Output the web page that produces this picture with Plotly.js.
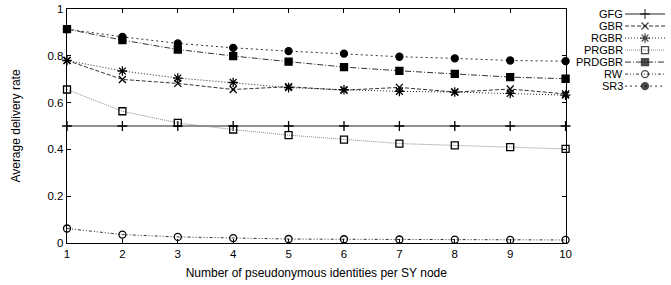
<!DOCTYPE html>
<html><head><meta charset="utf-8">
<script src="https://cdn.plot.ly/plotly-3.0.1.min.js"></script>
<style>html,body{margin:0;padding:0;background:#fff}#c{width:671px;height:285px}</style>
</head><body><div id="c"></div>
<script>
const xs = [1,2,3,4,5,6,7,8,9,10];
const names = ["GFG","GBR","RGBR","PRGBR","PRDGBR","RW","SR3"];
const GFG    = [0.5,0.5,0.5,0.5,0.5,0.5,0.5,0.5,0.5,0.5];
const GBR    = [0.78,0.699,0.682,0.656,0.668,0.653,0.665,0.645,0.658,0.637];
const RGBR   = [0.78,0.735,0.705,0.686,0.664,0.655,0.648,0.645,0.639,0.632];
const PRGBR  = [0.656,0.563,0.513,0.485,0.461,0.442,0.425,0.417,0.41,0.402];
const PRDGBR = [0.914,0.867,0.827,0.799,0.775,0.752,0.736,0.723,0.709,0.702];
const RW     = [0.062,0.036,0.026,0.021,0.017,0.016,0.015,0.014,0.013,0.013];
const SR3    = [0.914,0.881,0.853,0.834,0.82,0.809,0.796,0.789,0.78,0.777];
const yTicks = [0,0.2,0.4,0.6,0.8,1];
const yTickText = ["0","0.2","0.4","0.6","0.8","1"];
const xTicks = [1,2,3,4,5,6,7,8,9,10];

const series = [GFG,GBR,RGBR,PRGBR,PRDGBR,RW,SR3];
const styles = [
  {sym:"cross-thin-open", dash:"solid", col:"#222", sz:7},
  {sym:"x-thin-open", dash:"4px,2px", col:"#333", sz:7},
  {sym:"asterisk-open", dash:"1px,2px", col:"#222", sz:8},
  {sym:"square-open", dash:"1px,1px", col:"#888", sz:7},
  {sym:"square", dash:"6px,2px,1px,2px", col:"#333", sz:7},
  {sym:"circle-open", dash:"3px,2px,1px,2px,1px,2px", col:"#333", sz:7},
  {sym:"circle", dash:"2px,3px", col:"#333", sz:7}
];

const W=671,H=285, L=66.5, R=5, T=9, B=42.3;
const pw = W-L-R, ph = H-T-B;
const plotRight = 565.5;
const legX0 = 625, legX1 = 665;
const rowY0 = 14, rowDy = 12;

const traces = [];
series.forEach((ys,i)=>{
  const s = styles[i];
  traces.push({x:xs, y:ys, type:"scatter", mode:"lines+markers", name:names[i],
    line:{color:s.col, width:1, dash:s.dash},
    marker:{symbol:s.sym, size:s.sz, color:"#000", line:{color:"#000", width:1.3}},
    xaxis:"x", yaxis:"y", showlegend:false, cliponaxis:false});
});
const annotations = [];
names.forEach((n,i)=>{
  const s = styles[i];
  traces.push({x:[0,0.5,1], y:[-i,-i,-i], type:"scatter", mode:"lines+markers",
    line:{color:s.col, width:1, dash:s.dash},
    marker:{symbol:s.sym, size:[0,s.sz,0], color:"#000", line:{color:"#000", width:1.3}},
    xaxis:"x2", yaxis:"y2", showlegend:false, hoverinfo:"skip", cliponaxis:false});
  annotations.push({xref:"x2", yref:"y2", x:0, y:-i, text:n, showarrow:false,
    xanchor:"right", yanchor:"middle", xshift:-1, borderpad:0,
    font:{family:"Liberation Sans, Arial, sans-serif", size:11, color:"#000"}});
});

const font = {family:"Liberation Sans, Arial, sans-serif", size:11.5, color:"#000"};
const tfont = {family:"Liberation Sans, Arial, sans-serif", size:12, color:"#000"};
const legTopPx = T, legBotPx = 93;
const yTopVal = -(legTopPx-rowY0)/rowDy, yBotVal = -(legBotPx-rowY0)/rowDy;

const layout = {
  width:W, height:H, margin:{l:L, r:R, t:T, b:B},
  paper_bgcolor:"#fff", plot_bgcolor:"#fff", font:font, showlegend:false,
  xaxis:{domain:[0,(plotRight-L)/pw], range:[1,10], tickvals:xTicks, ticks:"inside", ticklen:4,
    tickwidth:1, tickcolor:"#000", showline:true, linecolor:"#000", linewidth:1.3, mirror:"ticks",
    showgrid:false, zeroline:false, tickfont:font,
    title:{text:"Number of pseudonymous identities per SY node", font:tfont, standoff:9}},
  yaxis:{range:[0,1], tickvals:yTicks, ticktext:yTickText, ticks:"inside", ticklen:4, tickwidth:1,
    tickcolor:"#000", showline:true, linecolor:"#000", linewidth:1.3, mirror:"ticks",
    showgrid:false, zeroline:false, tickfont:font,
    title:{text:"Average delivery rate", font:tfont, standoff:24}},
  xaxis2:{domain:[(legX0-L)/pw,(legX1-L)/pw], range:[0,1], visible:false, anchor:"y2", fixedrange:true},
  yaxis2:{domain:[(H-B-legBotPx)/ph,(H-B-legTopPx)/ph], range:[yBotVal,yTopVal], visible:false, anchor:"x2", fixedrange:true},
  annotations:annotations
};
Plotly.newPlot("c", traces, layout, {staticPlot:true, displayModeBar:false});
</script></body></html>
